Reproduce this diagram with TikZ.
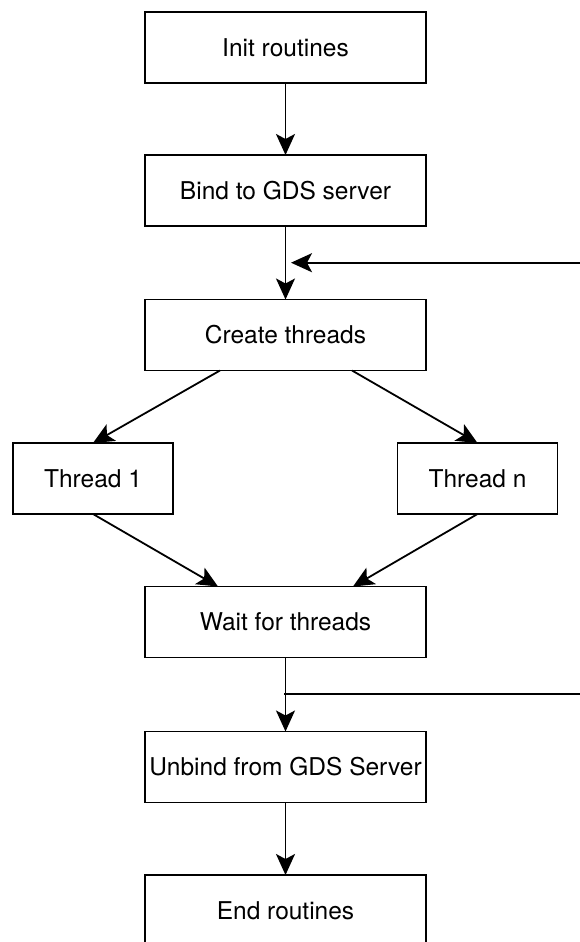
\documentclass[tikz,border=0pt]{standalone}
\usepackage{fontspec}
\setmainfont{TeX Gyre Heros}
\usetikzlibrary{arrows.meta}

\tikzset{
  stagebox/.style={draw,line width=1.8pt,rectangle,outer sep=0pt,inner sep=2pt,
    minimum width=281pt,minimum height=71pt,font=\fontsize{24.5}{28}\selectfont},
  threadbox/.style={stagebox,minimum width=160pt},
  flow/.style={line width=1.8pt,-{Stealth[length=21pt,width=19pt,inset=5pt]}}
}

\begin{document}
\begin{tikzpicture}[x=1pt,y=-1pt]
  \useasboundingbox (0,0) rectangle (580,942);
  \clip (0,0) rectangle (580,942);
  % main column
  \node[stagebox] (init) at (285.5,47.5) {Init routines};
  \node[stagebox] (bind) at (285.5,190.5) {Bind to GDS server};
  \node[stagebox] (create) at (285.5,335) {Create threads};
  \node[threadbox] (thread1) at (93,478.5) {Thread 1};
  \node[threadbox] (threadn) at (477.5,478.5) {Thread n};
  \node[stagebox] (wait) at (285.5,622) {Wait for threads};
  \node[stagebox] (unbind) at (285.5,767) {Unbind from GDS Server};
  \node[stagebox] (end) at (285.5,910.5) {End routines};
  % loose ends on the right
  \coordinate (loopin) at (580,262.7);
  \coordinate (loopinend) at (291,262.7);
  \coordinate (loopout) at (580,694.3);
  \coordinate (loopoutend) at (284,694.3);
  \draw[flow] (init) -- (bind);
  \draw[flow] (bind) -- (create);
  \draw[flow] (loopin) -- (loopinend);
  \draw[flow] ([xshift=75pt]create.south west) -- (thread1.north);
  \draw[flow] ([xshift=-74pt]create.south east) -- (threadn.north);
  \draw[flow] (thread1.south) -- ([xshift=73pt]wait.north west);
  \draw[flow] (threadn.south) -- ([xshift=-73pt]wait.north east);
  \draw[flow] (wait) -- (unbind);
  \draw[line width=1.8pt] (loopout) -- (loopoutend);
  \draw[flow] (unbind) -- (end);
\end{tikzpicture}
\end{document}
